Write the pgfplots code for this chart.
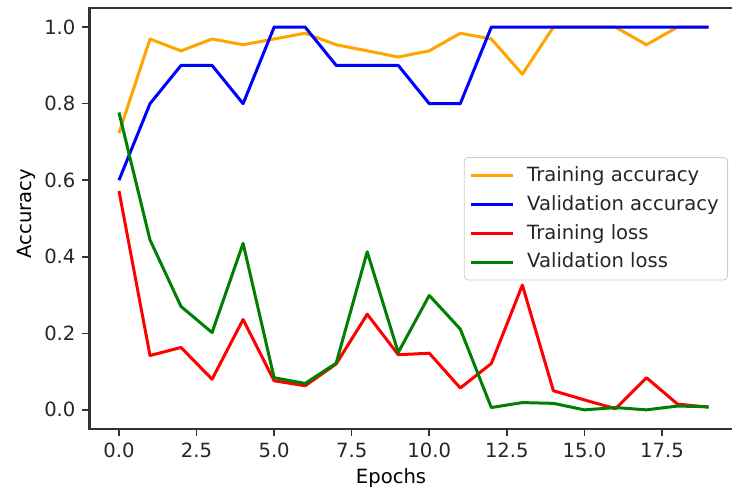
\documentclass[border=0pt]{standalone}
\usepackage{pgfplots}
\usepackage{pgfplotstable}
\pgfplotsset{compat=1.18}
\usepackage{fontspec}
\setmainfont{DejaVu Sans}

\definecolor{mplorange}{HTML}{FFA500}
\definecolor{mplgreen}{HTML}{008000}

\pgfplotstableread{
epoch tacc  vacc tloss vloss
0     0.723 0.6  0.572 0.777
1     0.969 0.8  0.142 0.444
2     0.938 0.9  0.163 0.270
3     0.969 0.9  0.080 0.202
4     0.954 0.8  0.236 0.435
5     0.969 1.0  0.076 0.084
6     0.984 1.0  0.063 0.069
7     0.954 0.9  0.120 0.122
8     0.938 0.9  0.250 0.413
9     0.922 0.9  0.144 0.150
10    0.938 0.8  0.148 0.299
11    0.984 0.8  0.057 0.211
12    0.969 1.0  0.121 0.006
13    0.877 1.0  0.326 0.019
14    1.000 1.0  0.050 0.017
15    1.000 1.0  0.026 0.000
16    1.000 1.0  0.003 0.006
17    0.954 1.0  0.084 0.000
18    1.000 1.0  0.015 0.010
19    1.000 1.0  0.007 0.008
}\history

\begin{document}
\begin{tikzpicture}
\clip (0pt,0pt) rectangle (366pt,245pt);
\begin{axis}[
    at={(44.75pt,30.5pt)}, anchor=south west,
    scale only axis, width=324.25pt, height=210.5pt,
    xmin=-0.95, xmax=19.95, ymin=-0.05, ymax=1.05,
    xtick={0,2.5,...,17.5},
    ytick={0,0.2,...,1.0},
    xtick pos=left, ytick pos=left,
    tick align=outside,
    major tick length=3.5pt,
    every tick/.style={black!80, line width=0.8pt},
    axis line style={black!80, line width=1.1pt},
    /pgf/number format/.cd, fixed, fixed zerofill, precision=1, assume math mode=true,
    /pgfplots/.cd,
    tick label style={font=\fontsize{9.8}{12}\selectfont, text=black!85},
    xlabel={Epochs}, ylabel={Accuracy},
    label style={font=\fontsize{9.8}{12}\selectfont},
    xlabel style={at={(rel axis cs:0.465,0)}, anchor=base, yshift=-27.5pt},
    ylabel style={at={([xshift=-28.75pt]rel axis cs:0,0.511)}, anchor=base},
    legend style={at={(rel axis cs:0.9846,0.646)}, anchor=north east,
        draw=black!20, rounded corners=2pt, fill=white,
        font=\fontsize{9.8}{12}\selectfont, text=black!85,
        row sep=1.5pt, inner sep=2.5pt,
        /tikz/every odd column/.append style={column sep=4.5pt}},
    legend cell align=left,
    legend image code/.code={\draw[#1] (0pt,0pt) -- (21pt,0pt);},
    every axis plot/.append style={line width=1.5pt, line join=round},
]
\addplot[mplorange] table[x=epoch, y=tacc] {\history};
\addlegendentry{Training accuracy}
\addplot[blue] table[x=epoch, y=vacc] {\history};
\addlegendentry{Validation accuracy}
\addplot[red] table[x=epoch, y=tloss] {\history};
\addlegendentry{Training loss}
\addplot[mplgreen] table[x=epoch, y=vloss] {\history};
\addlegendentry{Validation loss}
\end{axis}
\end{tikzpicture}
\end{document}
